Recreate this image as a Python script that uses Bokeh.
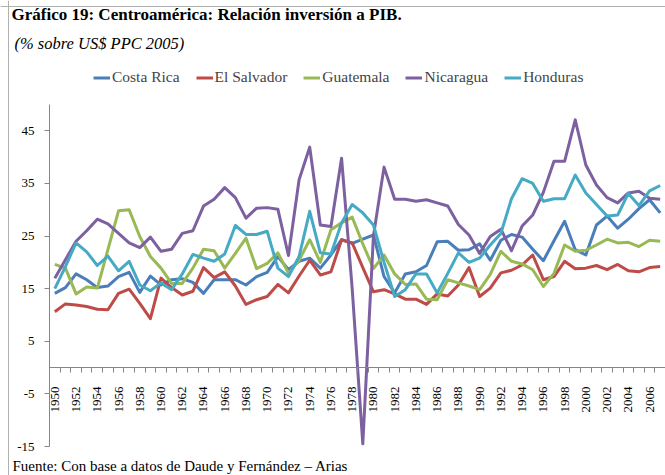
import numpy as np
from bokeh.plotting import figure
from bokeh.models import (Range1d, FixedTicker, Legend, LegendItem, Label, Span,
                          LinearAxis)
from bokeh.embed import file_html
from bokeh.resources import INLINE

years = list(range(1950, 2008))

costa_rica = [14.1, 15.2, 17.8, 16.7, 15.2, 15.5, 17.3, 18.1, 14.3, 17.4,
              15.7, 16.7, 16.9, 16.2, 14.1, 16.7, 16.7, 16.7, 15.7, 17.3,
              18.1, 21.1, 18.6, 20.2, 20.8, 18.9, 21.4, 24.3, 23.6, 24.4,
              25.2, 17.3, 14.2, 17.8, 18.2, 19.4, 23.9, 24.0, 22.3, 22.4,
              23.5, 20.4, 24.2, 25.3, 24.8, 22.5, 20.3, 24.1, 27.8, 22.4,
              21.4, 27.1, 28.8, 26.5, 28.2, 30.2, 31.9, 29.4]
el_salvador = [10.6, 12.1, 11.9, 11.6, 11.1, 11.0, 14.1, 14.9, 12.2, 9.3,
               17.0, 15.2, 13.8, 14.5, 19.0, 17.1, 18.2, 15.5, 12.0, 12.9,
               13.5, 15.8, 14.2, 17.4, 20.4, 17.6, 18.2, 24.3, 23.7, 19.0,
               14.4, 14.8, 14.0, 13.0, 13.0, 12.0, 14.0, 13.6, 15.7, 19.0,
               13.5, 15.1, 18.0, 18.5, 19.5, 21.4, 16.7, 17.3, 20.2, 18.8,
               18.9, 19.4, 18.6, 19.6, 18.4, 18.2, 19.0, 19.2]
guatemala = [19.6, 18.9, 14.0, 15.3, 15.1, 22.4, 29.8, 30.0, 24.9, 21.1,
             18.9, 16.0, 16.0, 18.9, 22.5, 22.2, 18.9, 21.7, 24.6, 18.8,
             19.8, 21.8, 17.9, 20.4, 24.3, 20.0, 26.2, 27.5, 28.6, 23.5,
             18.8, 21.4, 17.8, 15.8, 15.9, 13.0, 12.9, 16.7, 16.1, 15.5,
             14.8, 17.7, 22.1, 20.2, 19.7, 18.6, 15.4, 17.9, 23.3, 22.1,
             22.3, 23.3, 24.4, 23.7, 23.8, 23.0, 24.2, 24.0]
nicaragua = [17.0, 20.5, 24.0, 26.0, 28.2, 27.3, 25.5, 23.7, 22.8, 24.8,
             22.1, 22.5, 25.5, 26.0, 30.7, 32.0, 34.2, 32.3, 28.4, 30.3,
             30.4, 30.1, 21.3, 35.7, 41.9, 27.1, 26.8, 39.8, 15.0, -14.5,
             25.0, 38.1, 32.0, 32.0, 31.6, 31.9, 31.3, 30.7, 27.2, 25.2,
             21.7, 24.9, 26.3, 22.2, 26.9, 29.0, 33.3, 39.2, 39.2, 47.1,
             38.5, 34.7, 32.3, 31.3, 33.2, 33.5, 32.2, 32.0]
honduras = [15.0, 19.2, 23.7, 22.0, 19.4, 21.2, 18.4, 20.2, 15.7, 14.6,
            16.1, 14.8, 17.8, 21.5, 20.8, 20.2, 21.6, 27.0, 25.3, 25.3,
            25.9, 18.9, 17.3, 21.1, 29.7, 21.8, 21.6, 27.5, 31.0, 29.4,
            27.1, 20.0, 13.5, 14.8, 17.8, 17.8, 14.2, 17.9, 21.8, 20.0,
            20.8, 23.3, 25.5, 32.1, 35.9, 35.0, 31.6, 32.1, 32.1, 36.6,
            33.2, 31.0, 28.8, 29.0, 33.1, 30.8, 33.6, 34.6]

series_names = ["Costa Rica", "El Salvador", "Guatemala", "Nicaragua", "Honduras"]
series_values = [costa_rica, el_salvador, guatemala, nicaragua, honduras]
colors = ["#4A7EBB", "#BE4B48", "#98B954", "#7D60A0", "#46AAC5"]

y_ticks = [-15, -5, 5, 15, 25, 35, 45]
y_labels = ["-15", "-5", "5", "15", "25", "35", "45"]
y_min, y_max = -15, 50
label_years = [y for y in years if y % 2 == 0]
x_labels = [str(y) for y in label_years]

title_text = "Gráfico 19: Centroamérica: Relación inversión a PIB."
subtitle_text = "(% sobre US$ PPC 2005)"
source_text = "Fuente: Con base a datos de Daude y Fernández – Arias"

FONT = "Liberation Serif"
AXIS_GRAY = "#868686"

# ---- canvas geometry (pixels) ----
W, H = 665, 475
PLOT_L, PLOT_R, PLOT_T, PLOT_B = 49, 665, 104, 446
x_lo, x_hi = years[0] - 0.5, years[-1] + 0.5
sx = (PLOT_R - PLOT_L) / (x_hi - x_lo)
sy = (PLOT_B - PLOT_T) / (y_max - y_min)
x_start = x_lo - PLOT_L / sx
x_end = x_lo + (W - PLOT_L) / sx
y_end = y_max + PLOT_T / sy
y_start = y_min - (H - PLOT_B) / sy

p = figure(width=W, height=H,
           x_range=Range1d(x_start, x_end), y_range=Range1d(y_start, y_end),
           output_backend="svg", toolbar_location=None,
           x_axis_location=None, y_axis_location=None,
           min_border=0, min_border_left=0, min_border_right=0,
           min_border_top=0, min_border_bottom=0)
p.outline_line_color = None
p.xgrid.visible = False
p.ygrid.visible = False
p.background_fill_color = "white"
p.border_fill_color = "white"

# page frame lines
p.add_layout(Span(location=x_start + 8 / sx, dimension="height",
                  line_color="#b0b0b0", line_width=1))
p.add_layout(Span(location=y_end - 6 / sy, dimension="width",
                  line_color="#b0b0b0", line_width=1))

# y axis at the left of the plot area
yax = LinearAxis(fixed_location=x_lo, bounds=(y_min, y_max),
                 ticker=FixedTicker(ticks=y_ticks))
yax.major_label_overrides = {t: lab for t, lab in zip(y_ticks, y_labels)}
yax.axis_line_color = AXIS_GRAY
yax.major_tick_line_color = AXIS_GRAY
yax.major_tick_out = 5
yax.major_tick_in = 0
yax.minor_tick_line_color = None
yax.major_label_standoff = 10
yax.major_label_text_font = FONT
yax.major_label_text_font_size = "13px"
yax.major_label_text_color = "black"
p.add_layout(yax, "left")

# x axis crossing at zero
xax = LinearAxis(fixed_location=0, bounds=(x_lo, x_hi),
                 ticker=FixedTicker(ticks=label_years,
                                    minor_ticks=[y - 0.5 for y in years] + [x_hi]))
xax.major_label_overrides = {yr: lab for yr, lab in zip(label_years, x_labels)}
xax.axis_line_color = AXIS_GRAY
xax.major_tick_line_color = None
xax.major_tick_out = 0
xax.major_tick_in = 0
xax.minor_tick_line_color = AXIS_GRAY
xax.minor_tick_out = 5
xax.minor_tick_in = 0
xax.major_label_orientation = np.pi / 2
xax.major_label_standoff = 14
xax.major_label_text_font = FONT
xax.major_label_text_font_size = "13px"
xax.major_label_text_color = "black"
p.add_layout(xax, "below")

items = []
for name, vals, col in zip(series_names, series_values, colors):
    r = p.line(years, vals, line_width=3, line_color=col, line_join="round")
    items.append(LegendItem(label=name, renderers=[r]))

legend = Legend(items=items, orientation="horizontal", location=(93, H - 86),
                border_line_color=None, background_fill_alpha=0,
                label_text_font=FONT, label_text_font_size="15.5px",
                glyph_width=17, glyph_height=17, label_height=17,
                label_standoff=2, spacing=16, padding=0, margin=0)
p.add_layout(legend, "center")

p.add_layout(Label(x=x_start, y=y_end, x_offset=11, y_offset=-14, text=title_text,
                   text_font=FONT, text_font_style="bold", text_font_size="17px",
                   text_baseline="middle", text_color="black"))
p.add_layout(Label(x=x_start, y=y_end, x_offset=14, y_offset=-43, text=subtitle_text,
                   text_font=FONT, text_font_style="italic", text_font_size="16.5px",
                   text_baseline="middle", text_color="black"))
p.add_layout(Label(x=x_start, y=y_end, x_offset=12, y_offset=-465, text=source_text,
                   text_font=FONT, text_font_size="15px",
                   text_baseline="middle", text_color="black"))

open("out.html", "w").write(file_html(p, INLINE))
